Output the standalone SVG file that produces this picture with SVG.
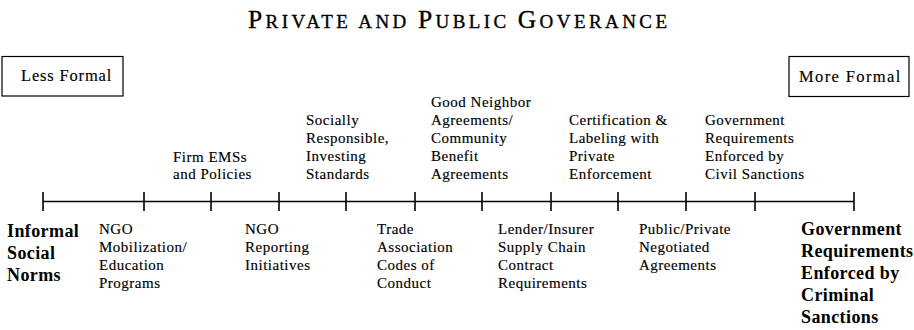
<svg xmlns="http://www.w3.org/2000/svg" width="914" height="330" viewBox="0 0 914 330">
<style>
  text { font-family: "Liberation Serif", "Times New Roman", serif; fill: #000; }
  .lbl { font-size: 15px; letter-spacing: 0.5px; stroke: #000; stroke-width: 0.15px; }
  .big { font-size: 18px; font-weight: bold; letter-spacing: 0.4px; }
  .box { fill: #fff; stroke: #000; stroke-width: 1.2; }
  .boxt { font-size: 16.5px; letter-spacing: 0.7px; stroke: #000; stroke-width: 0.15px; }
  .ttl { stroke: #000; stroke-width: 0.35px; }
  .axis { stroke: #000; stroke-width: 1.4; fill: none; }
  .tick { stroke: #000; stroke-width: 1.6; }
</style>
<rect width="914" height="330" fill="#fff"/>

<g id="title">
  <text class="ttl" x="248" y="28" textLength="419" lengthAdjust="spacing"><tspan font-size="25.5">P</tspan><tspan font-size="19">RIVATE AND </tspan><tspan font-size="25.5">P</tspan><tspan font-size="19">UBLIC </tspan><tspan font-size="25.5">G</tspan><tspan font-size="19">OVERANCE</tspan></text>
</g>

<g id="less-formal">
  <rect class="box" x="2" y="56.5" width="121" height="39.5"/>
  <text class="boxt" x="21" y="80.5" textLength="91" lengthAdjust="spacing">Less Formal</text>
</g>
<g id="more-formal">
  <rect class="box" x="789" y="56.5" width="120" height="40"/>
  <text class="boxt" x="799" y="81.5" textLength="102" lengthAdjust="spacing">More Formal</text>
</g>

<g id="connectors">
  <line class="axis" x1="43" y1="201.5" x2="854" y2="201.5"/>
  <line class="tick" x1="43" y1="192" x2="43" y2="211"/>
  <line class="tick" x1="144" y1="192" x2="144" y2="211"/>
  <line class="tick" x1="211" y1="192" x2="211" y2="211"/>
  <line class="tick" x1="279" y1="192" x2="279" y2="211"/>
  <line class="tick" x1="346" y1="192" x2="346" y2="211"/>
  <line class="tick" x1="415" y1="192" x2="415" y2="211"/>
  <line class="tick" x1="482" y1="192" x2="482" y2="211"/>
  <line class="tick" x1="551" y1="192" x2="551" y2="211"/>
  <line class="tick" x1="618" y1="192" x2="618" y2="211"/>
  <line class="tick" x1="686" y1="192" x2="686" y2="211"/>
  <line class="tick" x1="755" y1="192" x2="755" y2="211"/>
  <line class="tick" x1="854" y1="192" x2="854" y2="211"/>
</g>

<g id="informal-social-norms">
  <text class="big"><tspan x="7" y="236.5">Informal</tspan><tspan x="7" y="258.5">Social</tspan><tspan x="7" y="280.5">Norms</tspan></text>
</g>
<g id="ngo-mobilization">
  <text class="lbl"><tspan x="99" y="233.5">NGO</tspan><tspan x="99" y="251.5">Mobilization/</tspan><tspan x="99" y="269.5">Education</tspan><tspan x="99" y="287.5">Programs</tspan></text>
</g>
<g id="firm-ems">
  <text class="lbl"><tspan x="173" y="161.5">Firm EMSs</tspan><tspan x="173" y="179">and Policies</tspan></text>
</g>
<g id="ngo-reporting">
  <text class="lbl"><tspan x="245" y="233.5">NGO</tspan><tspan x="245" y="251.5">Reporting</tspan><tspan x="245" y="269.5">Initiatives</tspan></text>
</g>
<g id="socially-responsible">
  <text class="lbl"><tspan x="306" y="125">Socially</tspan><tspan x="306" y="143">Responsible,</tspan><tspan x="306" y="161">Investing</tspan><tspan x="306" y="179">Standards</tspan></text>
</g>
<g id="trade-association">
  <text class="lbl"><tspan x="377" y="233.5">Trade</tspan><tspan x="377" y="251.5">Association</tspan><tspan x="377" y="269.5">Codes of</tspan><tspan x="377" y="287.5">Conduct</tspan></text>
</g>
<g id="good-neighbor">
  <text class="lbl"><tspan x="431" y="107">Good Neighbor</tspan><tspan x="431" y="125">Agreements/</tspan><tspan x="431" y="143">Community</tspan><tspan x="431" y="161">Benefit</tspan><tspan x="431" y="179">Agreements</tspan></text>
</g>
<g id="lender-insurer">
  <text class="lbl"><tspan x="498" y="233.5">Lender/Insurer</tspan><tspan x="498" y="251.5">Supply Chain</tspan><tspan x="498" y="269.5">Contract</tspan><tspan x="498" y="287.5">Requirements</tspan></text>
</g>
<g id="certification">
  <text class="lbl"><tspan x="569" y="125">Certification &amp;</tspan><tspan x="569" y="143">Labeling with</tspan><tspan x="569" y="161">Private</tspan><tspan x="569" y="179">Enforcement</tspan></text>
</g>
<g id="public-private">
  <text class="lbl"><tspan x="639" y="233.5">Public/Private</tspan><tspan x="639" y="251.5">Negotiated</tspan><tspan x="639" y="269.5">Agreements</tspan></text>
</g>
<g id="civil-sanctions">
  <text class="lbl"><tspan x="705" y="125">Government</tspan><tspan x="705" y="143">Requirements</tspan><tspan x="705" y="161">Enforced by</tspan><tspan x="705" y="179">Civil Sanctions</tspan></text>
</g>
<g id="criminal-sanctions">
  <text class="big"><tspan x="801" y="235">Government</tspan><tspan x="801" y="257">Requirements</tspan><tspan x="801" y="279">Enforced by</tspan><tspan x="801" y="301">Criminal</tspan><tspan x="801" y="323">Sanctions</tspan></text>
</g>
</svg>
